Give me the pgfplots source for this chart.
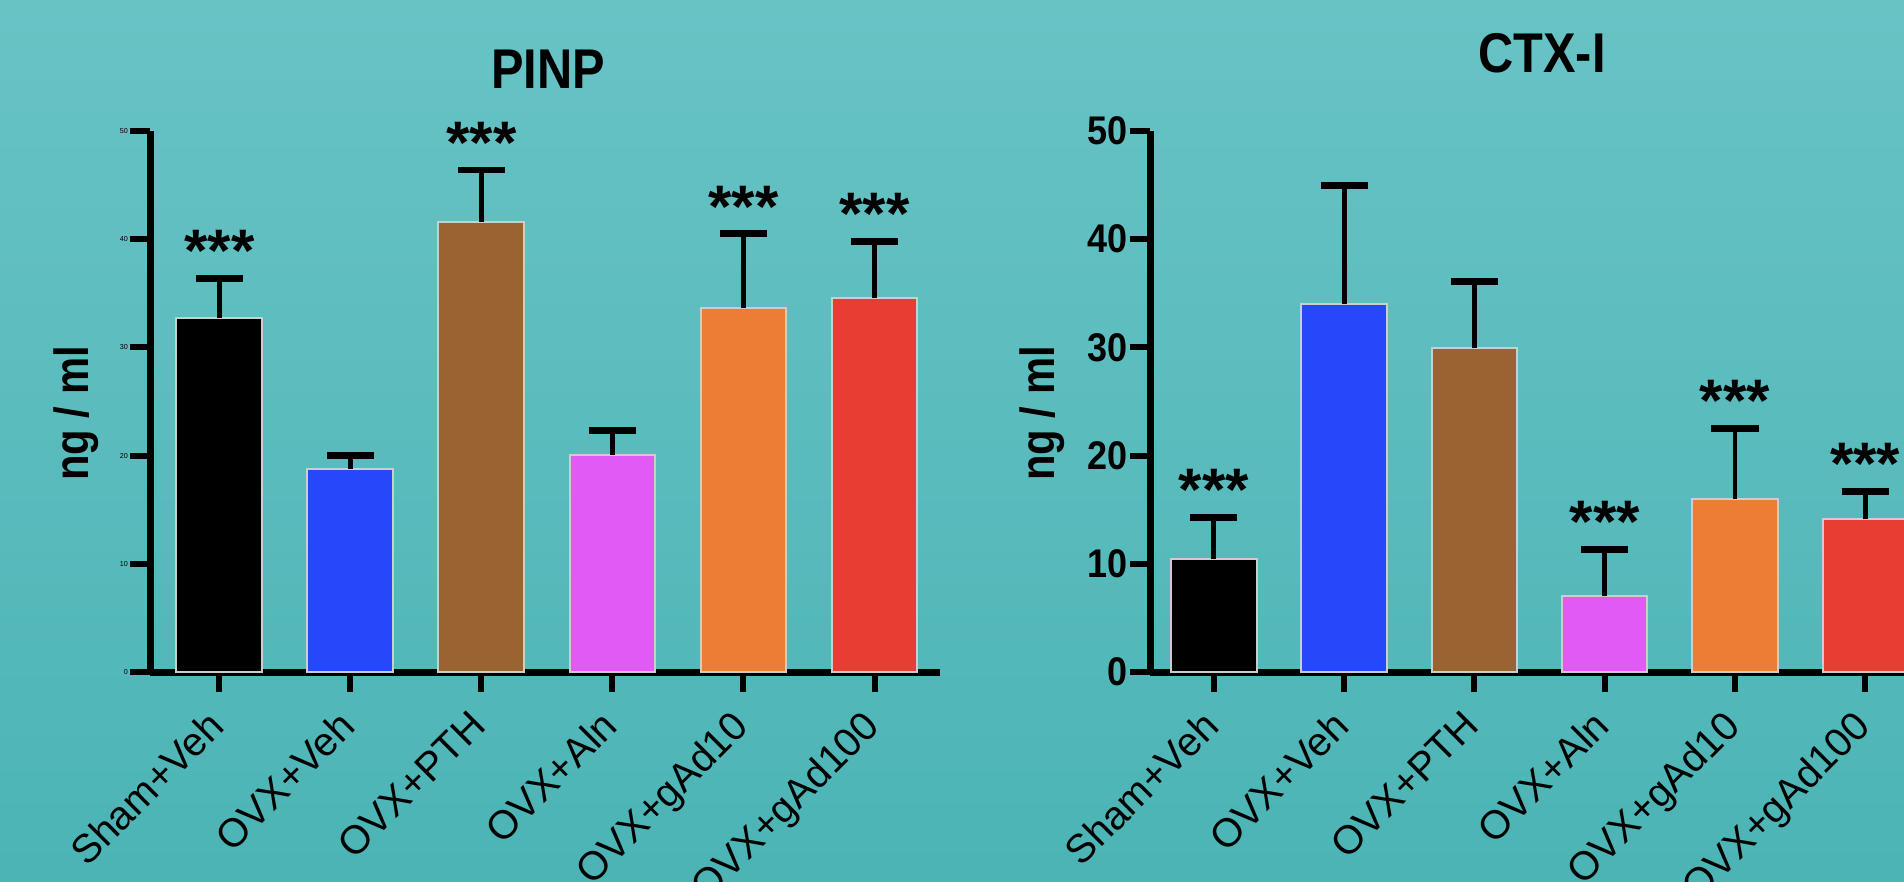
\documentclass[border=0pt]{standalone}
\usepackage{pgfplots}
\pgfplotsset{compat=1.18}
\usepackage{fontspec}
\setmainfont{Liberation Sans}
\definecolor{bgtop}{RGB}{104,195,197}
\definecolor{bgbot}{RGB}{76,180,181}
\definecolor{cblue}{RGB}{37,73,250}
\definecolor{cbrown}{RGB}{153,99,50}
\definecolor{cmag}{RGB}{226,90,245}
\definecolor{corange}{RGB}{237,125,53}
\definecolor{cred}{RGB}{230,62,50}
\definecolor{edge}{RGB}{205,205,205}
\pgfplotsset{
  base/.style={
    scale only axis, height=135.25pt,
    ymin=0, ymax=50, xmax=5.5,
    axis lines=left, axis line style={line width=1.75pt, black, -},
    ytick={0,10,...,50}, xtick={0,...,5},
    xticklabels={Sham+Veh,OVX+Veh,OVX+PTH,OVX+Aln,OVX+gAd10,OVX+gAd100},
    tick align=outside, major tick length=5pt,
    tick style={line width=1.5pt, black},
    xticklabel style={xshift=-3.4pt, yshift=-3.75pt, rotate=45, anchor=north east, inner sep=0pt,
      font=\fontsize{10}{11}\selectfont},
    /pgf/number format/assume math mode=true,
    ybar, bar width=0.656, clip=false,
    every axis plot/.append style={bar shift=0pt, draw=edge, line width=0.5pt},
    error bars/y dir=plus, error bars/y explicit,
    error bars/error bar style={line width=1.2pt, black, solid},
    error bars/error mark options={rotate=90, line width=1.7pt, black, mark size=5.9pt},
  },
}
\tikzset{stars/.style={anchor=south, inner sep=0pt, yshift=1.5pt, font=\bfseries\fontsize{15}{15}\selectfont}}
\begin{document}
\begin{tikzpicture}
\path[use as bounding box] (0,0) rectangle (476pt,220.25pt);
\clip (0,0) rectangle (476pt,220.25pt);
\shade[top color=bgtop, bottom color=bgbot] (0,0) rectangle (476pt,220.25pt);
\begin{axis}[base, at={(37.5pt,52.25pt)}, anchor=south west, width=197.5pt, xmin=-0.53,
  yticklabel style={font=\fontsize{1.8}{2}\selectfont, inner sep=0.3pt}]
\addplot[fill=black] coordinates {(0,32.7) +- (0,3.7)};
\addplot[fill=cblue] coordinates {(1,18.8) +- (0,1.2)};
\addplot[fill=cbrown] coordinates {(2,41.6) +- (0,4.8)};
\addplot[fill=cmag] coordinates {(3,20.1) +- (0,2.2)};
\addplot[fill=corange] coordinates {(4,33.6) +- (0,6.9)};
\addplot[fill=cred] coordinates {(5,34.6) +- (0,5.2)};
\node[stars] at (axis cs:0,36.4) {***};
\node[stars] at (axis cs:2,46.4) {***};
\node[stars] at (axis cs:4,40.5) {***};
\node[stars] at (axis cs:5,39.8) {***};
\end{axis}
\begin{axis}[base, at={(287.5pt,52.25pt)}, anchor=south west, width=195.1pt, xmin=-0.49,
  yticklabel={\scalebox{0.9}[1]{\bfseries\fontsize{10}{11}\selectfont\pgfmathprintnumber{\tick}}},
  yticklabel style={inner sep=0.5pt}]
\addplot[fill=black] coordinates {(0,10.4) +- (0,3.9)};
\addplot[fill=cblue] coordinates {(1,34.0) +- (0,11.0)};
\addplot[fill=cbrown] coordinates {(2,29.9) +- (0,6.2)};
\addplot[fill=cmag] coordinates {(3,7.0) +- (0,4.3)};
\addplot[fill=corange] coordinates {(4,16.0) +- (0,6.5)};
\addplot[fill=cred] coordinates {(5,14.1) +- (0,2.6)};
\node[stars] at (axis cs:0,14.3) {***};
\node[stars] at (axis cs:3,11.3) {***};
\node[stars] at (axis cs:4,22.5) {***};
\node[stars] at (axis cs:5,16.7) {***};
\end{axis}
\node[anchor=base, font=\bfseries\fontsize{14}{14}\selectfont] at (137pt,198.25pt) {\scalebox{0.87}[1]{PINP}};
\node[anchor=base, font=\bfseries\fontsize{14}{14}\selectfont] at (385.5pt,202.25pt) {\scalebox{0.87}[1]{CTX-I}};
\node[rotate=90, font=\bfseries\fontsize{12}{12}\selectfont] at (19pt,116.9pt) {\scalebox{0.87}[1]{ng / ml}};
\node[rotate=90, font=\bfseries\fontsize{12}{12}\selectfont] at (260.5pt,116.9pt) {\scalebox{0.87}[1]{ng / ml}};
\end{tikzpicture}
\end{document}
